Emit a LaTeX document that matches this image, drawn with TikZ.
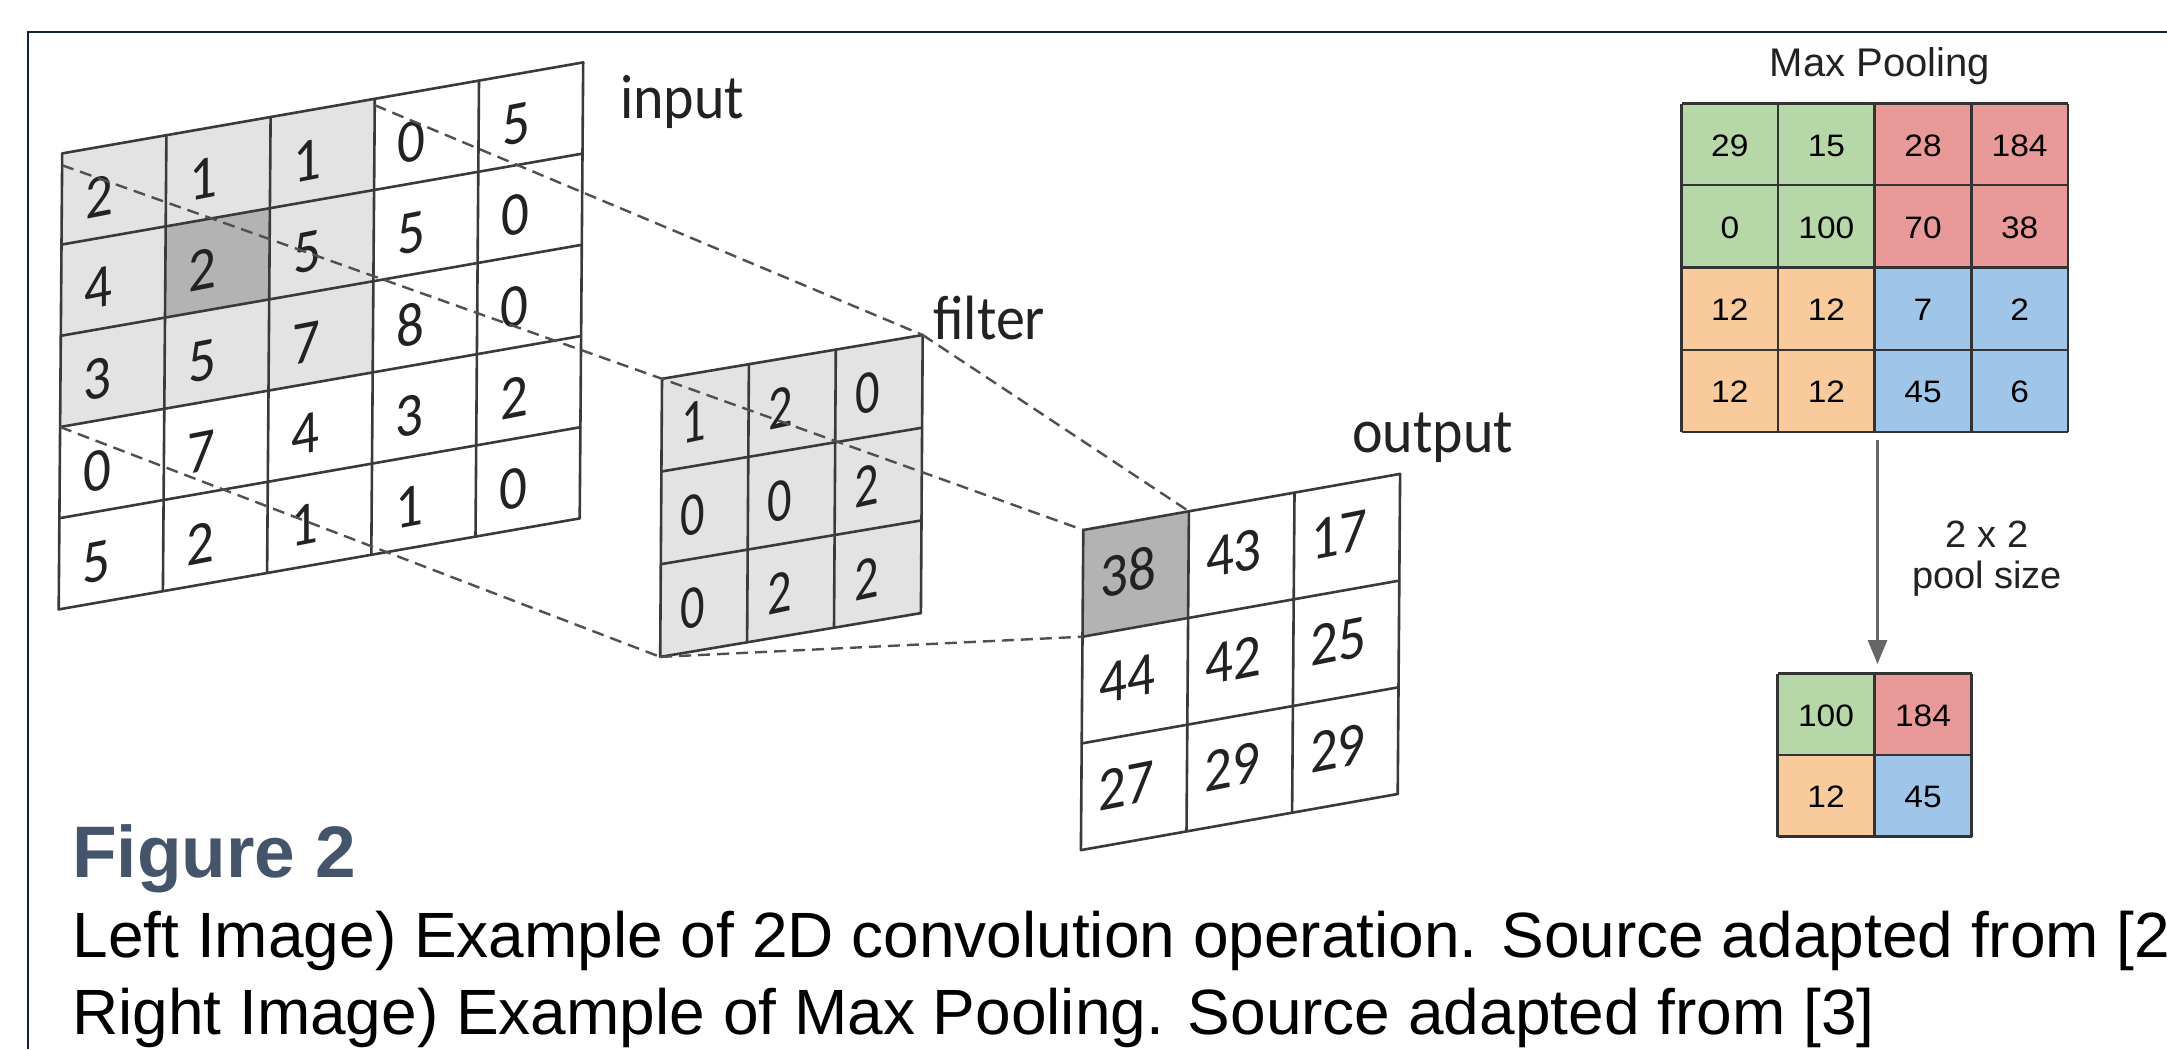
\documentclass[tikz,border=0pt]{standalone}
\usepackage{fontspec}
\setmainfont{Liberation Sans}
\newfontfamily\calfont{Carlito}
\usetikzlibrary{arrows.meta}
\definecolor{framec}{HTML}{14203A}
\definecolor{cellL}{HTML}{E3E3E3}
\definecolor{cellD}{HTML}{B3B3B3}
\definecolor{gridc}{HTML}{3A3A3A}
\definecolor{dashc}{HTML}{505050}
\definecolor{txtc}{HTML}{222222}
\definecolor{pgreen}{HTML}{B6D7A8}
\definecolor{pred}{HTML}{EA9999}
\definecolor{porange}{HTML}{F9CB9C}
\definecolor{pblue}{HTML}{9FC5E8}
\definecolor{pgrid}{HTML}{333333}
\definecolor{arrc}{HTML}{666666}
\definecolor{figc}{HTML}{44546A}
\tikzset{
  gridline/.style={draw=gridc, line width=2.6pt, line cap=round, line join=round},
  dashline/.style={draw=dashc, line width=2.4pt, dash pattern=on 12pt off 7pt},
  digit/.style={inner sep=0pt, text=txtc, font=\calfont\fontsize{55}{60}\selectfont, yscale=1.12},
  lbl/.style={inner sep=0pt, text=txtc, font=\calfont\fontsize{58}{64}\selectfont, yscale=1.08, anchor=base west},
  poolnum/.style={inner sep=0pt, text=black, font=\fontsize{31}{36}\selectfont, xscale=1.08},
  poolgrid/.style={draw=pgrid, line width=2.2pt},
  poollbl/.style={inner sep=0pt, text=txtc, font=\fontsize{38}{42}\selectfont, anchor=base},
  capt/.style={inner sep=0pt, anchor=base west, text=black, font=\fontsize{64}{76}\selectfont}
}
\begin{document}
\begin{tikzpicture}[x=1pt,y=-1pt]
\useasboundingbox (0,0) rectangle (2167,1049);
\fill[white] (0,0) rectangle (2167,1049);
\draw[framec, line width=2.6pt] (28,1049) -- (28,32) -- (2167,32);

% ---------------- input ----------------
\begin{scope}[shift={(62.2pt,-153.4pt)}, x={(104.2pt,18.2pt)}, y={(-0.7pt,-91.2pt)}]
  \fill[cellL] (0,0) -- (3,0) -- (3,3) -- (0,3) -- cycle;
  \fill[cellD] (1,1) -- (2,1) -- (2,2) -- (1,2) -- cycle;
  \foreach \i in {0,...,5} {
    \draw[gridline] (\i,0) -- (\i,5);
    \draw[gridline] (0,\i) -- (5,\i);
  }
  \coordinate (inA) at (0,0.13);
  \coordinate (inB) at (3,0.07);
  \coordinate (inC) at (0,3);
  \foreach \v [count=\k from 0] in {2,1,1,0,5, 4,2,5,5,0, 3,5,7,8,0, 0,7,4,3,2, 5,2,1,1,0} {
    \pgfmathtruncatemacro\rr{floor(\k/5)}
    \pgfmathtruncatemacro\cc{\k-5*\rr}
    \node[digit, yslant=0.175] (in\rr\cc) at (\cc+0.36,\rr+0.55) {\v};
  }
\end{scope}
\node[lbl] (inlabel) at (620,118) {input};

% ---------------- filter ----------------
\begin{scope}[shift={(662pt,-378.8pt)}, x={(86.9pt,14.6pt)}, y={(-0.6pt,-92.7pt)}]
  \fill[cellL] (0,0) -- (3,0) -- (3,3) -- (0,3) -- cycle;
  \foreach \i in {0,...,3} {
    \draw[gridline] (\i,0) -- (\i,3);
    \draw[gridline] (0,\i) -- (3,\i);
  }
  \coordinate (fTL) at (0,0);
  \coordinate (fTR) at (3,0);
  \coordinate (fBL) at (0,3);
  \foreach \v [count=\k from 0] in {1,2,0, 0,0,2, 0,2,2} {
    \pgfmathtruncatemacro\rr{floor(\k/3)}
    \pgfmathtruncatemacro\cc{\k-3*\rr}
    \node[digit, xscale=0.88, yslant=0.168] (f\rr\cc) at (\cc+0.37,\rr+0.53) {\v};
  }
\end{scope}
\node[lbl] (flabel) at (933,339) {filter};

% ---------------- output ----------------
\begin{scope}[shift={(1083.3pt,-530pt)}, x={(105.6pt,18.7pt)}, y={(-0.8pt,-106.7pt)}]
  \fill[cellD] (0,0) -- (1,0) -- (1,1) -- (0,1) -- cycle;
  \foreach \i in {0,...,3} {
    \draw[gridline] (\i,0) -- (\i,3);
    \draw[gridline] (0,\i) -- (3,\i);
  }
  \coordinate (oTL) at (0,0);
  \coordinate (oTR) at (1,0);
  \coordinate (oBL) at (0,1);
  \foreach \v [count=\k from 0] in {38,43,17, 44,42,25, 27,29,29} {
    \pgfmathtruncatemacro\rr{floor(\k/3)}
    \pgfmathtruncatemacro\cc{\k-3*\rr}
    \node[digit, yslant=0.177] (o\rr\cc) at (\cc+0.43,\rr+0.47) {\v};
  }
\end{scope}
\node[lbl] (olabel) at (1352,452) {output};

% ---------------- dashed connectors ----------------
\draw[dashline] (inA) -- (fTL) -- (oTL);
\draw[dashline] (inB) -- (fTR);
\draw[dashline] (inC) -- (fBL);
\draw[dashline] (fTR) -- (oTR);
\draw[dashline] (fBL) -- (oBL);

% ---------------- max pooling ----------------
\node[poollbl, font=\fontsize{40}{44}\selectfont] (mptitle) at (1880,77) {Max Pooling};
\fill[pgreen]  (1681.5,103.5) rectangle (1874.5,267.5);
\fill[pred]    (1874.5,103.5) rectangle (2068,267.5);
\fill[porange] (1681.5,267.5) rectangle (1874.5,432);
\fill[pblue]   (1874.5,267.5) rectangle (2068,432);
\foreach \x in {1681.5,1778,1874.5,1971.5,2068} \draw[poolgrid] (\x,103.5) -- (\x,432);
\foreach \y in {103.5,185,267.5,350,432} \draw[poolgrid] (1681.5,\y) -- (2068,\y);
\foreach \v [count=\k from 0] in {29,15,28,184, 0,100,70,38, 12,12,7,2, 12,12,45,6} {
  \pgfmathtruncatemacro\rr{floor(\k/4)}
  \pgfmathtruncatemacro\cc{\k-4*\rr}
  \node[poolnum] (p\rr\cc) at (1681.5+96.6*\cc+48.3, 103.5+82.1*\rr+42) {\v};
}

\coordinate (arS) at (1877.5,440);
\coordinate (arE) at (1877.5,664);
\draw[arrc, line width=3pt, -{Triangle[length=24pt,width=19pt]}] (arS) -- (arE);
\node[poollbl] (pl1) at (1987,547) {2 x 2};
\node[poollbl] (pl2) at (1987,588) {pool size};

\fill[pgreen]  (1777.5,673.5) rectangle (1874.5,755);
\fill[pred]    (1874.5,673.5) rectangle (1971.5,755);
\fill[porange] (1777.5,755) rectangle (1874.5,836.5);
\fill[pblue]   (1874.5,755) rectangle (1971.5,836.5);
\foreach \x in {1777.5,1874.5,1971.5} \draw[poolgrid] (\x,673.5) -- (\x,836.5);
\foreach \y in {673.5,755,836.5} \draw[poolgrid] (1777.5,\y) -- (1971.5,\y);
\node[poolnum] (q00) at (1826,716) {100};
\node[poolnum] (q01) at (1923,716) {184};
\node[poolnum] (q10) at (1826,797) {12};
\node[poolnum] (q11) at (1923,797) {45};

% ---------------- caption ----------------
\node[capt, text=figc, font=\bfseries\fontsize{73}{80}\selectfont] (figt) at (72,877) {Figure 2};
\node[capt] (cap1) at (72.5,957) {Left Image) Example of 2D convolution operation. Source adapted from [2]};
\node[capt] (cap2) at (72,1034) {Right Image) Example of Max Pooling. Source adapted from [3]};
\end{tikzpicture}
\end{document}
